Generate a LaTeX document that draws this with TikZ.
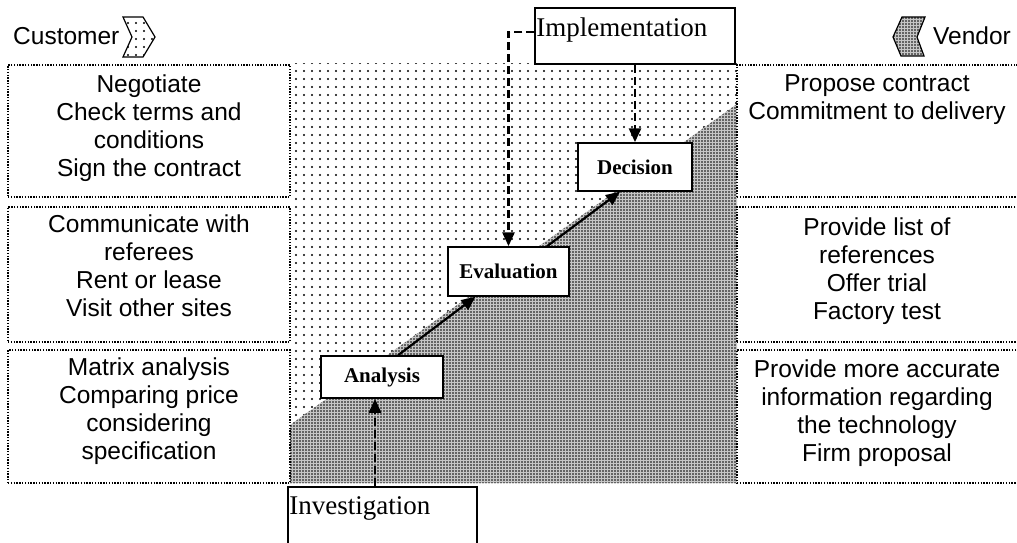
\documentclass[tikz,border=0pt]{standalone}
\usepackage{fontspec}
\setmainfont{Liberation Serif}
\newfontfamily\arialfont{Liberation Sans}
\usetikzlibrary{patterns.meta,arrows.meta,calc}
\begin{document}
\begin{tikzpicture}[x=1pt,y=-1pt,
 dotbox/.style={draw, line width=1.4pt, dash pattern=on 1.4pt off 1.4pt, inner sep=0pt, fill=white},
 boxtext/.style={anchor=north, inner sep=0pt, align=center, font=\arialfont\fontsize{24.5}{28}\selectfont},
 headtext/.style={anchor=base west, inner sep=0pt, font=\arialfont\fontsize{24.5}{28}\selectfont},
 stage/.style={draw, line width=1.5pt, fill=white, inner sep=0pt, font=\bfseries\fontsize{21}{24}\selectfont},
 phase/.style={draw, line width=1.5pt, fill=white, inner sep=0pt},
 phasetext/.style={anchor=north west, inner sep=0pt, font=\fontsize{27}{30}\selectfont},
 flow/.style={line width=2.2pt, -{Triangle[length=14pt,width=12pt]}},
 dflow/.style={line width=2.8pt, dash pattern=on 8pt off 4pt, -{Triangle[length=14pt,width=12pt]}},
 light/.style={pattern={Dots[distance=8pt,radius=1.2pt]}},
 dense/.style={preaction={fill=gray!45}, pattern={Dots[distance=3pt,radius=0.8pt]}}]
\useasboundingbox (0,0) rectangle (1017,543);
% central shaded region
\fill[white] (290,64) rectangle (737,483);
\path[light] (290,64) rectangle (737,483);
\path[dense] (290,425) -- (737,104) -- (737,483) -- (290,483) -- cycle;
% customer boxes
\node[dotbox, minimum width=282pt, minimum height=132pt] (c1) at (149,131) {};
\node[dotbox, minimum width=282pt, minimum height=135pt] (c2) at (149,274.5) {};
\node[dotbox, minimum width=282pt, minimum height=133pt] (c3) at (149,416.5) {};
\node[boxtext] (c1t) at ($(c1.north)+(0,10.5)$) {Negotiate\\Check terms and\\conditions\\Sign the contract};
\node[boxtext] (c2t) at ($(c2.north)+(0,8.5)$) {Communicate with\\referees\\Rent or lease\\Visit other sites};
\node[boxtext] (c3t) at ($(c3.north)+(0,8)$) {Matrix analysis\\Comparing price\\considering\\specification};
% vendor boxes
\node[dotbox, minimum width=283pt, minimum height=132pt] (v1) at (878.5,131) {};
\node[dotbox, minimum width=283pt, minimum height=135pt] (v2) at (878.5,274.5) {};
\node[dotbox, minimum width=283pt, minimum height=133pt] (v3) at (878.5,416.5) {};
\node[boxtext] (v1t) at ($(v1.north)+(-1.5,10)$) {Propose contract\\Commitment to delivery};
\node[boxtext] (v2t) at ($(v2.north)+(-1.5,11)$) {Provide list of\\references\\Offer trial\\Factory test};
\node[boxtext] (v3t) at ($(v3.north)+(-1.5,10)$) {Provide more accurate\\information regarding\\the technology\\Firm proposal};
% headers
\node[headtext] (cust) at (13,45) {Customer};
\draw[line width=1.2pt, light] (123,17) -- (143,17) -- (155,37) -- (143,57) -- (123,57) -- (132,37) -- cycle;
\node[headtext] (vend) at (933,45) {Vendor};
\draw[line width=1.2pt, dense] (902,17) -- (925,17) -- (917,37) -- (924,56) -- (901,56) -- (893,37) -- cycle;
% phases
\node[phase, minimum width=200pt, minimum height=56pt] (impl) at (635,36) {};
\node[phasetext] (implt) at ($(impl.north west)+(2,10)$) {Implementation};
\node[phase, minimum width=189pt, minimum height=80pt] (inv) at (382.5,527) {};
\node[phasetext] (invt) at ($(inv.north west)+(2,10)$) {Investigation};
% stages
\node[stage, minimum width=114pt, minimum height=48pt] (dec) at (635,167) {Decision};
\node[stage, minimum width=121pt, minimum height=49pt] (eval) at (508.5,271.5) {Evaluation};
\node[stage, minimum width=122pt, minimum height=42pt] (ana) at (382,377) {Analysis};
% connectors
\draw[flow] ([xshift=16pt]ana.north) -- ([xshift=-33pt]eval.south);
\draw[flow] ([xshift=38.5pt]eval.north) -- ([xshift=-15pt]dec.south);
\coordinate (ix) at (375,0);
\draw[dflow] (inv.north -| ix) -- (ana.south -| ix);
\draw[dflow] (impl.south) -- (dec.north);
\draw[dflow] ([yshift=4pt]impl.west) -| (eval.north);
\end{tikzpicture}
\end{document}
